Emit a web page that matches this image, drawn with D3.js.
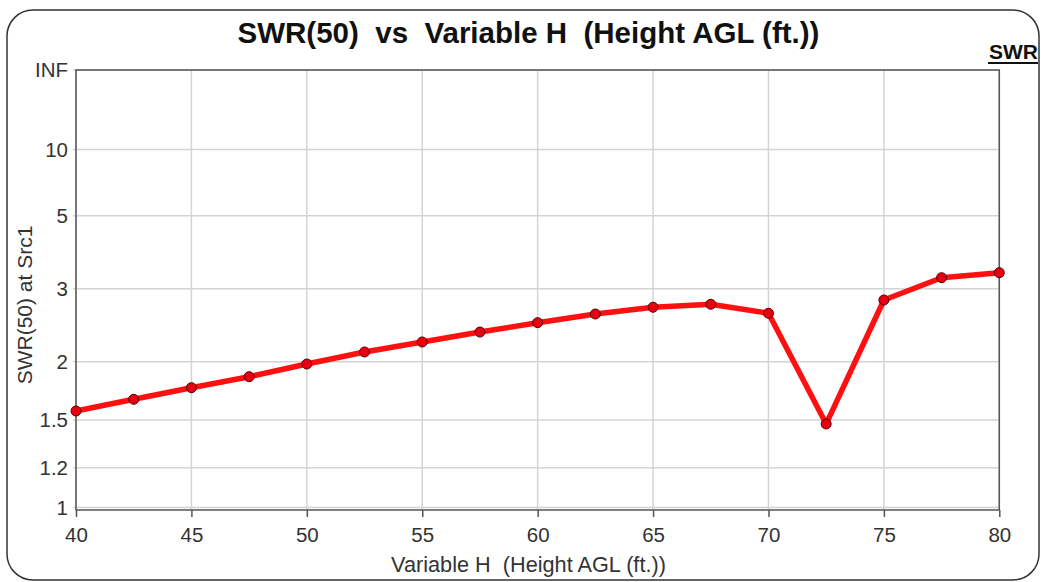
<!DOCTYPE html>
<html lang="en">
<head>
<meta charset="UTF-8">
<title>SWR(50) vs Variable H</title>
<script src="https://d3js.org/d3.v7.min.js"></script>
<style>
    body{ margin:0; background:white; }
    svg{ display:block; font-family:"Liberation Sans", Arial, sans-serif; }
</style>
</head>
<body>
<script>
// data
const heights = [40, 42.5, 45, 47.5, 50, 52.5, 55, 57.5, 60, 62.5, 65, 67.5, 70, 72.5, 75, 77.5, 80];
const swr = [1.566, 1.657, 1.754, 1.853, 1.976, 2.103, 2.217, 2.339, 2.463, 2.586, 2.688, 2.735, 2.597, 1.472, 2.804, 3.213, 3.317];
const xTicks = [40, 45, 50, 55, 60, 65, 70, 75, 80];
const yTicks = [1, 1.2, 1.5, 2, 3, 5, 10, Infinity];

const w = 1041, h = 582;
const margin = {left:76, right:41.7, top:70, bottom:72};

const svg = d3.select("body").append("svg").attr("width", w).attr("height", h);

// outer rounded frame
svg.append("rect")
    .attr("x", 7).attr("y", 10).attr("width", 1032).attr("height", 570)
    .attr("rx", 26).attr("ry", 26)
    .attr("fill", "white").attr("stroke", "#333").attr("stroke-width", 1.5);

// SWR axis is linear in reflection coefficient
const rho = s => s === Infinity ? 1 : (s - 1) / (s + 1);

const xScale = d3.scaleLinear().domain([40, 80]).range([margin.left, w - margin.right]);
const yScale = d3.scaleLinear().domain([0, 1]).range([507.5, margin.top]);
const plotBottom = h - margin.bottom;

// grid
svg.append("g").selectAll("line.v").data(xTicks).enter().append("line")
    .attr("x1", d => xScale(d)).attr("x2", d => xScale(d))
    .attr("y1", margin.top).attr("y2", plotBottom)
    .attr("stroke", "#d4d4d4").attr("stroke-width", 1.5);
svg.append("g").selectAll("line.h").data(yTicks).enter().append("line")
    .attr("x1", margin.left - 3).attr("x2", w - margin.right)
    .attr("y1", d => yScale(rho(d))).attr("y2", d => yScale(rho(d)))
    .attr("stroke", "#d4d4d4").attr("stroke-width", 1.5);

// axes
const xAxis = d3.axisBottom(xScale).tickValues(xTicks).tickSize(7).tickPadding(10);
const gx = svg.append("g").attr("transform", "translate(0," + plotBottom + ")").call(xAxis);
gx.select(".domain").remove();
gx.selectAll("line").attr("stroke", "#555").attr("stroke-width", 1.5);
gx.selectAll("text").attr("font-size", 20.5).attr("fill", "#333").attr("font-family", "Liberation Sans, Arial, sans-serif");

const yAxis = d3.axisLeft(yScale).tickValues(yTicks.map(rho)).tickSize(0).tickPadding(8)
    .tickFormat((d, i) => yTicks[i] === Infinity ? "INF" : String(yTicks[i]));
const gy = svg.append("g").attr("transform", "translate(" + margin.left + ",0)").call(yAxis);
gy.select(".domain").remove();
gy.selectAll("text").attr("font-size", 20.5).attr("fill", "#333").attr("font-family", "Liberation Sans, Arial, sans-serif");

// plot frame
svg.append("rect")
    .attr("x", margin.left).attr("y", margin.top)
    .attr("width", w - margin.right - margin.left).attr("height", plotBottom - margin.top)
    .attr("fill", "none").attr("stroke", "#555").attr("stroke-width", 1.5);

// series
const data = heights.map((x, i) => ({x: x, y: swr[i]}));
const line = d3.line().x(d => xScale(d.x)).y(d => yScale(rho(d.y)));
svg.append("path").datum(data)
    .attr("d", line).attr("fill", "none")
    .attr("stroke", "#ff1010").attr("stroke-width", 5.5).attr("stroke-linejoin", "round");
svg.append("g").selectAll("circle").data(data).enter().append("circle")
    .attr("cx", d => xScale(d.x)).attr("cy", d => yScale(rho(d.y))).attr("r", 5)
    .attr("fill", "#e60012").attr("stroke", "#5a0000").attr("stroke-width", 1);

// titles
svg.append("text").attr("x", 528.5).attr("y", 43).attr("text-anchor", "middle")
    .attr("font-size", 29.5).attr("font-weight", "bold").attr("fill", "#111")
    .style("white-space", "pre")
    .text("SWR(50)  vs  Variable H  (Height AGL (ft.))");
svg.append("text").attr("x", 1038).attr("y", 59).attr("text-anchor", "end")
    .attr("font-size", 21).attr("font-weight", "bold").attr("fill", "#111").text("SWR");
svg.append("line").attr("x1", 988).attr("x2", 1038).attr("y1", 63).attr("y2", 63)
    .attr("stroke", "#111").attr("stroke-width", 2);
svg.append("text").attr("x", 528.5).attr("y", 572).attr("text-anchor", "middle")
    .attr("font-size", 21.7).attr("fill", "#333").style("white-space", "pre")
    .text("Variable H  (Height AGL (ft.))");
svg.append("text").attr("transform", "translate(32,305) rotate(-90)").attr("text-anchor", "middle")
    .attr("font-size", 21).attr("fill", "#333").text("SWR(50) at Src1");
</script>
</body>
</html>
